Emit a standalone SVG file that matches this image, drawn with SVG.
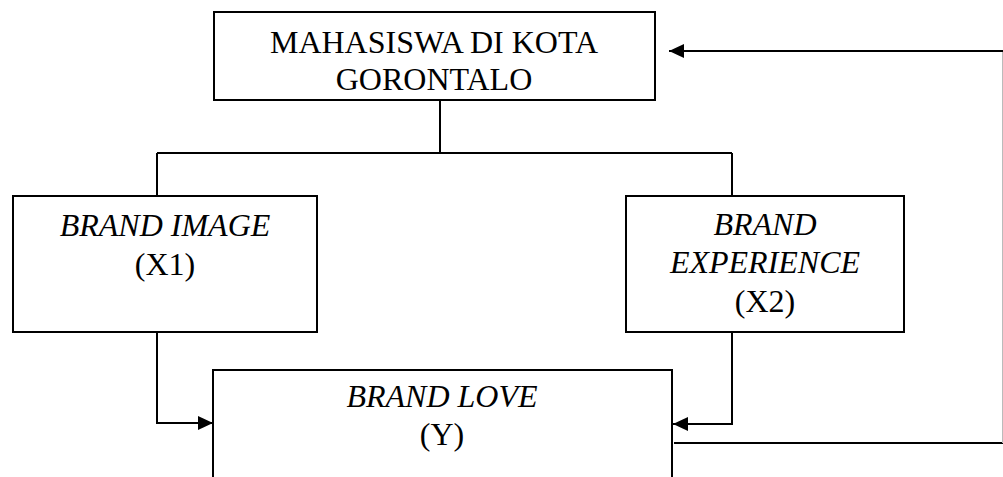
<svg xmlns="http://www.w3.org/2000/svg" width="1003" height="477" viewBox="0 0 1003 477">
<style>
.box{fill:#fff;stroke:#000;stroke-width:2}
.ln{fill:none;stroke:#000;stroke-width:2}
.t{font-family:"Liberation Serif","Times New Roman",serif;font-size:32px;fill:#000;text-anchor:middle}
.i{font-style:italic}
</style>
<defs>
<marker id="ah" markerUnits="userSpaceOnUse" markerWidth="15" markerHeight="14" refX="15" refY="7" orient="auto">
<path d="M0,0 L15,7 L0,14 z" fill="#000"/>
</marker>
</defs>
<rect width="1003" height="477" fill="#fff"/>
<g id="connectors">
<path class="ln" d="M440,100 V153"/>
<path class="ln" d="M157,153 H732"/>
<path class="ln" d="M157,153 V196"/>
<path class="ln" d="M732,153 V196"/>
<path class="ln" d="M157,332 V423 H213" marker-end="url(#ah)"/>
<path class="ln" d="M732,332 V424 H673" marker-end="url(#ah)"/>
<path class="ln" d="M674,443 H1003"/>
<path d="M1002.5,51 V443" fill="none" stroke="#bbb" stroke-width="1"/>
<path class="ln" d="M1003,51 H669" marker-end="url(#ah)"/>
</g>
<g id="node-mahasiswa">
<rect class="box" x="214" y="12" width="441" height="88"/>
<text class="t" x="434" y="53">MAHASISWA DI KOTA</text>
<text class="t" x="434" y="90">GORONTALO</text>
</g>
<g id="node-brand-image">
<rect class="box" x="13" y="196" width="304" height="136"/>
<text class="t i" x="165" y="236">BRAND IMAGE</text>
<text class="t" x="165" y="275">(X1)</text>
</g>
<g id="node-brand-experience">
<rect class="box" x="626" y="196" width="278" height="136"/>
<text class="t i" x="765" y="235">BRAND</text>
<text class="t i" x="765" y="273">EXPERIENCE</text>
<text class="t" x="765" y="312">(X2)</text>
</g>
<g id="node-brand-love">
<rect class="box" x="213" y="370" width="459" height="130"/>
<text class="t i" x="442" y="407">BRAND LOVE</text>
<text class="t" x="442" y="445">(Y)</text>
</g>
</svg>
